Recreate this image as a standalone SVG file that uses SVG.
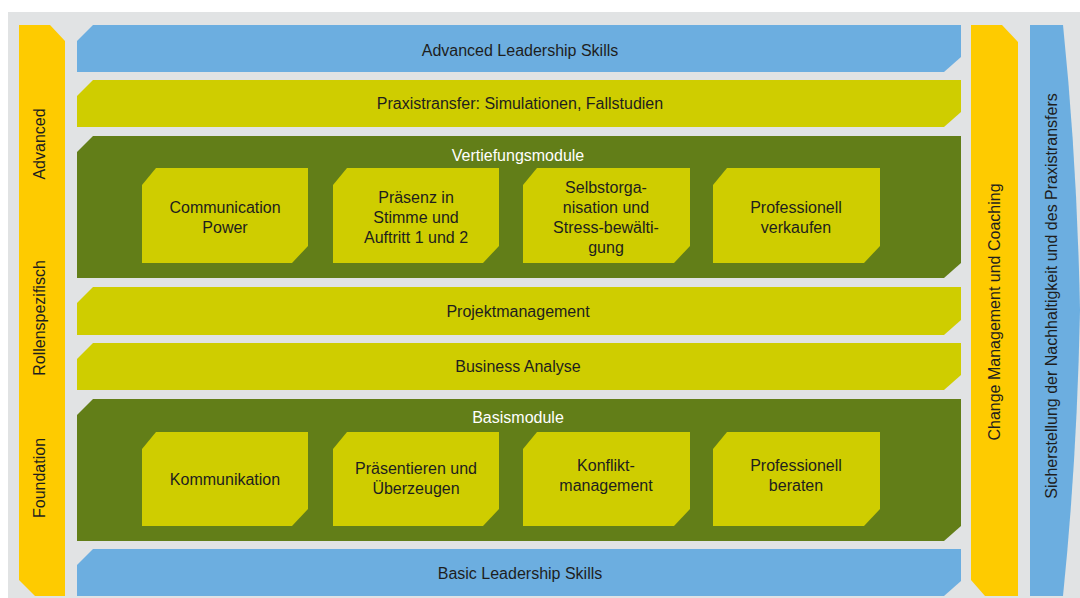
<svg xmlns="http://www.w3.org/2000/svg" width="1080" height="598" viewBox="0 0 1080 598">
  <style>
    .t { font-family: "Liberation Sans", Arial, sans-serif; font-size: 16px; fill: #1e1e1e; text-anchor: middle; }
    .w { fill: #ffffff; }
    .yellow { fill: #fecb00; }
    .blue { fill: #6caee0; }
    .lime { fill: #cfcd00; }
    .dark { fill: #627e18; }
  </style>
  <rect x="0" y="0" width="1080" height="598" fill="#ffffff"/>
  <rect x="8" y="12" width="1072" height="586" fill="#e1e3e4"/>

  <g id="side-left">
    <polygon class="yellow" points="19,25 50,25 65,41 65,596 35,596 19,580"/>
    <text class="t" transform="translate(45,144) rotate(-90)">Advanced</text>
    <text class="t" transform="translate(45,318) rotate(-90)">Rollenspezifisch</text>
    <text class="t" transform="translate(45,478) rotate(-90)">Foundation</text>
  </g>

  <g id="advanced-leadership">
    <polygon class="blue" points="93,25 961,25 961,57 944,72 77,72 77,41"/>
    <text class="t" x="520" y="56">Advanced Leadership Skills</text>
  </g>

  <g id="praxistransfer">
    <polygon class="lime" points="93,80 961,80 961,112 944,127 77,127 77,96"/>
    <text class="t" x="520" y="109">Praxistransfer: Simulationen, Fallstudien</text>
  </g>

  <g id="vertiefungsmodule">
    <polygon class="dark" points="93,136 961,136 961,263 944,278 77,278 77,152"/>
    <text class="t w" x="518" y="161">Vertiefungsmodule</text>
  </g>

  <g id="communication-power">
    <polygon class="lime" points="156,168 308,168 308,246 292,263 142,263 142,185"/>
    <text class="t"><tspan x="225" y="213">Communication</tspan><tspan x="225" y="233">Power</tspan></text>
  </g>
  <g id="praesenz">
    <polygon class="lime" points="347,168 499,168 499,246 483,263 333,263 333,185"/>
    <text class="t"><tspan x="416" y="203">Präsenz in</tspan><tspan x="416" y="223">Stimme und</tspan><tspan x="416" y="243">Auftritt 1 und 2</tspan></text>
  </g>
  <g id="selbstorganisation">
    <polygon class="lime" points="537,168 690,168 690,246 674,263 523,263 523,185"/>
    <text class="t"><tspan x="606" y="193">Selbstorga-</tspan><tspan x="606" y="213">nisation und</tspan><tspan x="606" y="233">Stress-bewälti-</tspan><tspan x="606" y="253">gung</tspan></text>
  </g>
  <g id="professionell-verkaufen">
    <polygon class="lime" points="727,168 880,168 880,246 864,263 713,263 713,185"/>
    <text class="t"><tspan x="796" y="213">Professionell</tspan><tspan x="796" y="233">verkaufen</tspan></text>
  </g>

  <g id="projektmanagement">
    <polygon class="lime" points="93,287 961,287 961,320 944,335 77,335 77,303"/>
    <text class="t" x="518" y="317">Projektmanagement</text>
  </g>

  <g id="business-analyse">
    <polygon class="lime" points="93,343 961,343 961,375 944,390 77,390 77,359"/>
    <text class="t" x="518" y="372">Business Analyse</text>
  </g>

  <g id="basismodule">
    <polygon class="dark" points="93,399 961,399 961,526 944,541 77,541 77,415"/>
    <text class="t w" x="518" y="423">Basismodule</text>
  </g>

  <g id="kommunikation">
    <polygon class="lime" points="156,432 308,432 308,509 292,526 142,526 142,449"/>
    <text class="t" x="225" y="485">Kommunikation</text>
  </g>
  <g id="praesentieren">
    <polygon class="lime" points="347,432 499,432 499,509 483,526 333,526 333,449"/>
    <text class="t"><tspan x="416" y="474">Präsentieren und</tspan><tspan x="416" y="494">Überzeugen</tspan></text>
  </g>
  <g id="konfliktmanagement">
    <polygon class="lime" points="537,432 690,432 690,509 674,526 523,526 523,449"/>
    <text class="t"><tspan x="606" y="471">Konflikt-</tspan><tspan x="606" y="491">management</tspan></text>
  </g>
  <g id="professionell-beraten">
    <polygon class="lime" points="727,432 880,432 880,509 864,526 713,526 713,449"/>
    <text class="t"><tspan x="796" y="471">Professionell</tspan><tspan x="796" y="491">beraten</tspan></text>
  </g>

  <g id="basic-leadership">
    <polygon class="blue" points="93,549 961,549 961,581 944,596 77,596 77,565"/>
    <text class="t" x="520" y="579">Basic Leadership Skills</text>
  </g>

  <g id="change-management">
    <polygon class="yellow" points="971,25 1002,25 1018,42 1018,596 985,596 971,580"/>
    <text class="t" transform="translate(1000,312) rotate(-90)">Change Management und Coaching</text>
  </g>

  <g id="nachhaltigkeit">
    <path class="blue" d="M1030,25 L1063,25 Q1077,160 1080,310 Q1077,460 1063,596 L1030,596 Z"/>
    <text class="t" transform="translate(1057,296) rotate(-90)">Sicherstellung der Nachhaltigkeit und des Praxistransfers</text>
  </g>

  <g id="connectors"></g>
</svg>
